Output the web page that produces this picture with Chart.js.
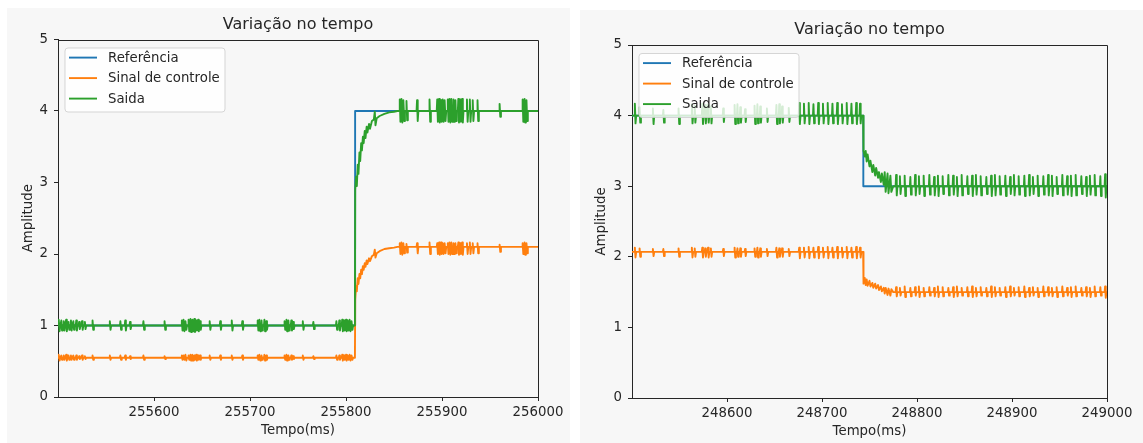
<!DOCTYPE html>
<html>
<head>
<meta charset="utf-8">
<script src="https://cdn.jsdelivr.net/npm/chart.js@4.4.1/dist/chart.umd.min.js"></script>
<style>
  html, body { margin: 0; padding: 0; background: #ffffff; width: 1143px; height: 443px; overflow: hidden; }
  .panel { position: absolute; background: #f7f7f7; }
  canvas { display: block; }
</style>
</head>
<body>
<div class="panel" style="left:7px; top:8px; width:563px; height:435px;"><canvas id="cL" width="563" height="435"></canvas></div>
<div class="panel" style="left:580px; top:10px; width:563px; height:433px;"><canvas id="cR" width="563" height="433"></canvas></div>
<script>
// ---------------- DATA ----------------
const titleText = 'Variação no tempo';
const xAxisTitle = 'Tempo(ms)';
const yAxisTitle = 'Amplitude';
const seriesNames = ['Referência', 'Sinal de controle', 'Saida'];
const yTicks = [0, 1, 2, 3, 4, 5];

// Left panel
const leftXRange = [255500, 256000];
const leftXTicks = [255600, 255700, 255800, 255900, 256000];
const leftStepT = 255809.5;
const leftRefT = [255500, 255809.5, 255809.5, 256000];
const leftRefV = [1, 1, 4, 4];
const leftCtrlLevels = [0.55, 2.10];
const leftOutLevels = [1.00, 4.00];
const leftRiseT = [255809.3, 255809.6, 255810.5, 255811.3, 255812.2, 255813, 255814, 255814.8, 255815.8, 255816.6, 255817.6, 255818.4, 255819.5, 255820.3, 255821.5, 255822.3, 255824, 255825, 255827, 255829, 255830, 255830.7, 255832, 255835, 255840, 255845, 255850, 255853.5];
const leftRiseCtrl = [0.55, 1.36, 1.55, 1.48, 1.66, 1.58, 1.72, 1.66, 1.78, 1.72, 1.83, 1.78, 1.87, 1.82, 1.91, 1.86, 1.94, 1.90, 1.97, 1.99, 2.06, 1.95, 2.01, 2.04, 2.07, 2.08, 2.09, 2.10];
const leftRiseOut = [1.00, 2.90, 3.08, 2.95, 3.25, 3.12, 3.42, 3.30, 3.55, 3.45, 3.64, 3.55, 3.72, 3.62, 3.78, 3.70, 3.82, 3.75, 3.86, 3.88, 3.99, 3.80, 3.90, 3.93, 3.96, 3.98, 3.99, 4.00];
const leftSpikeT = [
  255501, 255503.5, 255506, 255508.5, 255511, 255513.5, 255516, 255519, 255522, 255525, 255528,
  255536, 255554, 255565, 255570, 255575, 255589, 255611,
  255629, 255631, 255633, 255636, 255638, 255640, 255642, 255644, 255646, 255648,
  255658, 255669, 255681, 255692,
  255708, 255710, 255712, 255715, 255717,
  255736, 255738, 255740, 255743, 255745,
  255755, 255766,
  255790, 255793, 255796, 255798, 255800, 255802, 255804, 255806,
  255856, 255858, 255860, 255863,
  255874, 255887,
  255895, 255897, 255899, 255901, 255903,
  255906, 255908, 255910, 255912, 255914,
  255917, 255919, 255921,
  255926, 255929, 255932, 255937,
  255960,
  255984, 255986, 255988];
const leftOutHi = [
  1.08, 1.07, 1.06, 1.08, 1.05, 1.07, 1.06, 1.07, 1.05, 1.06, 1.05,
  1.07, 1.06, 1.06, 1.07, 1.05, 1.06, 1.06,
  1.07, 1.08, 1.06, 1.08, 1.09, 1.08, 1.09, 1.07, 1.08, 1.06,
  1.06, 1.06, 1.07, 1.06,
  1.07, 1.08, 1.07, 1.08, 1.06,
  1.06, 1.08, 1.07, 1.07, 1.05,
  1.06, 1.05,
  1.06, 1.07, 1.08, 1.07, 1.08, 1.07, 1.08, 1.06,
  4.16, 4.17, 4.15, 4.14,
  4.15, 4.16,
  4.16, 4.17, 4.15, 4.16, 4.15,
  4.16, 4.17, 4.17, 4.16, 4.15,
  4.17, 4.16, 4.17,
  4.16, 4.16, 4.15, 4.15,
  4.10,
  4.16, 4.17, 4.15];
const leftOutLo = [
  0.92, 0.93, 0.93, 0.92, 0.94, 0.93, 0.94, 0.93, 0.95, 0.94, 0.95,
  0.94, 0.94, 0.94, 0.93, 0.95, 0.94, 0.94,
  0.93, 0.92, 0.94, 0.92, 0.91, 0.92, 0.91, 0.93, 0.92, 0.94,
  0.94, 0.94, 0.93, 0.94,
  0.93, 0.92, 0.93, 0.92, 0.94,
  0.94, 0.92, 0.93, 0.93, 0.95,
  0.94, 0.95,
  0.94, 0.93, 0.92, 0.93, 0.92, 0.93, 0.92, 0.94,
  3.85, 3.84, 3.86, 3.87,
  3.86, 3.85,
  3.85, 3.84, 3.85, 3.85, 3.86,
  3.85, 3.84, 3.85, 3.85, 3.86,
  3.84, 3.85, 3.84,
  3.85, 3.85, 3.86, 3.86,
  3.92,
  3.85, 3.84, 3.86];
const leftCtrlHi = [
  0.59, 0.58, 0.58, 0.59, 0.58, 0.58, 0.58, 0.58, 0.57, 0.58, 0.57,
  0.58, 0.58, 0.58, 0.58, 0.57, 0.58, 0.57,
  0.58, 0.58, 0.59, 0.58, 0.59, 0.59, 0.58, 0.59, 0.58, 0.58,
  0.58, 0.58, 0.58, 0.58,
  0.58, 0.59, 0.58, 0.59, 0.58,
  0.58, 0.59, 0.58, 0.58, 0.57,
  0.58, 0.57,
  0.58, 0.58, 0.59, 0.58, 0.59, 0.58, 0.59, 0.58,
  2.15, 2.16, 2.15, 2.14,
  2.15, 2.16,
  2.15, 2.16, 2.16, 2.15, 2.15,
  2.15, 2.16, 2.16, 2.15, 2.15,
  2.16, 2.15, 2.16,
  2.15, 2.16, 2.15, 2.15,
  2.13,
  2.15, 2.16, 2.15];
const leftCtrlLo = [
  0.51, 0.52, 0.52, 0.51, 0.52, 0.52, 0.52, 0.52, 0.53, 0.52, 0.53,
  0.52, 0.52, 0.52, 0.52, 0.53, 0.52, 0.53,
  0.52, 0.52, 0.51, 0.52, 0.51, 0.51, 0.52, 0.51, 0.52, 0.52,
  0.52, 0.52, 0.52, 0.52,
  0.52, 0.51, 0.52, 0.51, 0.52,
  0.52, 0.51, 0.52, 0.52, 0.53,
  0.52, 0.53,
  0.52, 0.52, 0.51, 0.52, 0.51, 0.52, 0.51, 0.52,
  2.00, 1.99, 2.01, 2.02,
  2.01, 2.00,
  2.00, 1.99, 2.00, 2.00, 2.01,
  2.00, 1.99, 2.00, 2.00, 2.01,
  1.99, 2.00, 1.99,
  2.00, 2.00, 2.01, 2.01,
  2.03,
  2.00, 1.99, 2.01];

// Right panel
const rightXRange = [248500, 249000];
const rightXTicks = [248600, 248700, 248800, 248900, 249000];
const rightStepT = 248743.5;
const rightRefT = [248500, 248743.5, 248743.5, 249000];
const rightRefV = [4, 4, 3, 3];
const rightCtrlLevels = [2.07, 1.50];
const rightOutLevels = [4.00, 3.00];
const rightFallT = [248743.3, 248743.7, 248745, 248746, 248747, 248748, 248750, 248751, 248753, 248754, 248756, 248757, 248759, 248760, 248762, 248763, 248765, 248766, 248767, 248769, 248770, 248772, 248773, 248775];
const rightFallOut = [4.00, 3.50, 3.42, 3.50, 3.35, 3.45, 3.28, 3.36, 3.20, 3.30, 3.15, 3.26, 3.12, 3.20, 3.06, 3.18, 3.02, 3.20, 2.92, 3.18, 2.90, 3.15, 2.92, 3.00];
const rightFallCtrl = [2.07, 1.62, 1.70, 1.60, 1.68, 1.59, 1.66, 1.58, 1.63, 1.56, 1.62, 1.55, 1.60, 1.53, 1.58, 1.51, 1.56, 1.48, 1.56, 1.46, 1.55, 1.45, 1.54, 1.50];
const rightSpikeT = [
  248503, 248508, 248522, 248533, 248549, 248563, 248566, 248574, 248577, 248580,
  248583, 248596, 248608, 248611, 248614, 248619, 248629, 248632, 248635, 248642,
  248652, 248655, 248658, 248665, 248676, 248681, 248686, 248691, 248696, 248701,
  248706, 248711, 248716, 248721, 248726, 248731, 248736, 248740,
  248778, 248782, 248787, 248793, 248798, 248802, 248807, 248813, 248818, 248822,
  248827, 248833, 248838, 248842, 248847, 248853, 248858, 248862, 248867, 248873,
  248878, 248882, 248887, 248893, 248898, 248902, 248907, 248913, 248918, 248922,
  248927, 248933, 248938, 248942, 248947, 248953, 248958, 248962, 248967, 248973,
  248978, 248982, 248987, 248993, 248998];
const rightOutHi = [
  4.17, 4.12, 4.10, 4.08, 4.10, 4.16, 4.14, 4.17, 4.15, 4.16,
  4.13, 4.10, 4.15, 4.16, 4.12, 4.09, 4.14, 4.16, 4.13, 4.10,
  4.15, 4.16, 4.13, 4.11, 4.18, 4.17, 4.18, 4.16, 4.18, 4.17,
  4.18, 4.17, 4.18, 4.16, 4.18, 4.17, 4.18, 4.17,
  3.16, 3.14, 3.15, 3.13, 3.16, 3.14, 3.15, 3.16, 3.13, 3.15,
  3.14, 3.16, 3.15, 3.13, 3.16, 3.14, 3.15, 3.16, 3.14, 3.13,
  3.15, 3.16, 3.14, 3.15, 3.13, 3.16, 3.14, 3.15, 3.16, 3.13,
  3.15, 3.14, 3.16, 3.15, 3.13, 3.16, 3.14, 3.15, 3.16, 3.14,
  3.13, 3.15, 3.16, 3.14, 3.17];
const rightOutLo = [
  3.89, 3.90, 3.88, 3.90, 3.88, 3.89, 3.90, 3.88, 3.89, 3.90,
  3.89, 3.91, 3.88, 3.89, 3.90, 3.91, 3.88, 3.89, 3.90, 3.91,
  3.88, 3.89, 3.90, 3.91, 3.88, 3.89, 3.88, 3.89, 3.88, 3.89,
  3.88, 3.89, 3.88, 3.89, 3.88, 3.89, 3.88, 3.89,
  2.87, 2.89, 2.86, 2.88, 2.87, 2.89, 2.86, 2.88, 2.87, 2.86,
  2.89, 2.87, 2.88, 2.86, 2.87, 2.89, 2.86, 2.88, 2.87, 2.89,
  2.86, 2.87, 2.88, 2.86, 2.89, 2.87, 2.88, 2.86, 2.87, 2.89,
  2.86, 2.88, 2.87, 2.86, 2.89, 2.87, 2.88, 2.86, 2.87, 2.89,
  2.86, 2.88, 2.87, 2.86, 2.84];
const rightCtrlHi = [
  2.13, 2.12, 2.11, 2.11, 2.12, 2.13, 2.12, 2.13, 2.12, 2.13,
  2.12, 2.11, 2.13, 2.12, 2.12, 2.11, 2.12, 2.13, 2.12, 2.11,
  2.13, 2.12, 2.12, 2.11, 2.13, 2.13, 2.14, 2.13, 2.14, 2.13,
  2.14, 2.13, 2.14, 2.13, 2.14, 2.13, 2.14, 2.13,
  1.57, 1.56, 1.58, 1.56, 1.57, 1.58, 1.56, 1.57, 1.56, 1.58,
  1.57, 1.56, 1.57, 1.58, 1.56, 1.57, 1.58, 1.56, 1.57, 1.56,
  1.58, 1.57, 1.56, 1.57, 1.58, 1.56, 1.57, 1.58, 1.56, 1.57,
  1.56, 1.58, 1.57, 1.56, 1.57, 1.58, 1.56, 1.57, 1.58, 1.56,
  1.57, 1.56, 1.58, 1.57, 1.58];
const rightCtrlLo = [
  1.99, 2.00, 2.01, 2.01, 2.00, 1.99, 2.00, 1.99, 2.00, 1.99,
  2.00, 2.01, 1.99, 2.00, 2.00, 2.01, 2.00, 1.99, 2.00, 2.01,
  1.99, 2.00, 2.00, 2.01, 1.98, 1.99, 1.98, 1.99, 1.98, 1.99,
  1.98, 1.99, 1.98, 1.99, 1.98, 1.99, 1.98, 1.99,
  1.44, 1.45, 1.43, 1.44, 1.45, 1.43, 1.44, 1.45, 1.44, 1.43,
  1.44, 1.45, 1.43, 1.44, 1.45, 1.44, 1.43, 1.44, 1.45, 1.44,
  1.43, 1.44, 1.45, 1.43, 1.44, 1.45, 1.44, 1.43, 1.44, 1.45,
  1.43, 1.44, 1.45, 1.44, 1.43, 1.44, 1.45, 1.43, 1.44, 1.45,
  1.44, 1.43, 1.44, 1.45, 1.42];

// ---------------- BUILD ----------------
const COLORS = ['#1f77b4', '#ff7f0e', '#2ca02c'];
const FONT = '"DejaVu Sans", "Liberation Sans", sans-serif';
const TEXT = '#262626';
const LW = 1.9;

function pairs(ts, vs) { return ts.map((t, i) => ({ x: t, y: vs[i] })); }

// polyline: flat levels before/after the step, typed transition points, and spikes (hi/lo excursions)
function buildSeries(range, stepT, levels, transT, transV, spikeT, hi, lo) {
  const pts = [{ x: range[0], y: levels[0] }];
  spikeT.forEach((t, i) => {
    const base = t < stepT ? levels[0] : levels[1];
    pts.push({ x: t - 0.5, y: base }, { x: t, y: hi[i] }, { x: t + 0.7, y: lo[i] }, { x: t + 1.4, y: base });
  });
  transT.forEach((t, i) => pts.push({ x: t, y: transV[i] }));
  pts.push({ x: range[1], y: levels[1] });
  pts.sort((a, b) => a.x - b.x);
  return pts;
}

const chromePlugin = {
  id: 'chrome',
  afterDatasetsDraw(chart) {
    const ctx = chart.ctx, ca = chart.chartArea;
    ctx.save();
    // top/right spines
    ctx.strokeStyle = TEXT; ctx.lineWidth = 1;
    ctx.beginPath();
    ctx.moveTo(Math.round(ca.left) + 0.5, Math.round(ca.top) + 0.5);
    ctx.lineTo(Math.round(ca.right) + 0.5, Math.round(ca.top) + 0.5);
    ctx.lineTo(Math.round(ca.right) + 0.5, Math.round(ca.bottom) + 0.5);
    ctx.stroke();
    // legend (upper left, inside axes)
    const x0 = ca.left + 7, y0 = ca.top + 8.5, w = 160, h = 64, r = 3;
    ctx.beginPath();
    ctx.moveTo(x0 + r, y0);
    ctx.lineTo(x0 + w - r, y0); ctx.quadraticCurveTo(x0 + w, y0, x0 + w, y0 + r);
    ctx.lineTo(x0 + w, y0 + h - r); ctx.quadraticCurveTo(x0 + w, y0 + h, x0 + w - r, y0 + h);
    ctx.lineTo(x0 + r, y0 + h); ctx.quadraticCurveTo(x0, y0 + h, x0, y0 + h - r);
    ctx.lineTo(x0, y0 + r); ctx.quadraticCurveTo(x0, y0, x0 + r, y0);
    ctx.closePath();
    ctx.fillStyle = 'rgba(255,255,255,0.8)';
    ctx.fill();
    ctx.strokeStyle = 'rgba(204,204,204,0.8)';
    ctx.lineWidth = 1;
    ctx.stroke();
    ctx.font = '13.3px ' + FONT;
    ctx.textBaseline = 'middle';
    ctx.textAlign = 'left';
    chart.data.datasets.forEach((ds, i) => {
      const yy = y0 + 9.6 + i * 20.5;
      ctx.strokeStyle = ds.borderColor; ctx.lineWidth = LW;
      ctx.beginPath(); ctx.moveTo(x0 + 4, yy); ctx.lineTo(x0 + 32, yy); ctx.stroke();
      ctx.fillStyle = TEXT;
      ctx.fillText(ds.label, x0 + 43, yy + 0.5);
    });
    // title
    ctx.font = '16px ' + FONT;
    ctx.textAlign = 'center';
    ctx.fillStyle = TEXT;
    ctx.fillText(titleText, (ca.left + ca.right) / 2, ca.top - 15);
    ctx.restore();
  }
};

function makeChart(id, o) {
  const ds = [
    { label: seriesNames[0], data: pairs(o.refT, o.refV), borderColor: COLORS[0], order: 3 },
    { label: seriesNames[1], data: buildSeries(o.range, o.stepT, o.ctrlLevels, o.transT, o.transCtrl, o.spikeT, o.ctrlHi, o.ctrlLo), borderColor: COLORS[1], order: 2 },
    { label: seriesNames[2], data: buildSeries(o.range, o.stepT, o.outLevels, o.transT, o.transOut, o.spikeT, o.outHi, o.outLo), borderColor: COLORS[2], order: 1 }
  ];
  ds.forEach(d => Object.assign(d, { borderWidth: LW, pointRadius: 0, tension: 0, fill: false, borderJoinStyle: 'round', spanGaps: true }));
  return new Chart(document.getElementById(id), {
    type: 'line',
    data: { datasets: ds },
    plugins: [chromePlugin],
    options: {
      responsive: false, animation: false, devicePixelRatio: 1,
      parsing: false, normalized: true,
      layout: { padding: o.pad },
      plugins: { legend: { display: false }, title: { display: false }, tooltip: { enabled: false } },
      scales: {
        x: {
          type: 'linear', min: o.range[0], max: o.range[1],
          afterBuildTicks: s => { s.ticks = o.xTicks.map(v => ({ value: v })); },
          afterFit: s => { s.height = o.xH; },
          ticks: { autoSkip: false, maxRotation: 0, padding: 4, color: TEXT, font: { family: FONT, size: 13.3 }, callback: v => String(v) },
          grid: { display: true, drawOnChartArea: false, drawTicks: true, tickLength: 4, color: TEXT, lineWidth: 1 },
          border: { display: true, color: TEXT, width: 1 },
          title: { display: true, text: xAxisTitle, color: TEXT, font: { family: FONT, size: 13.3 }, padding: { top: 0, bottom: o.xTitlePad } }
        },
        y: {
          type: 'linear', min: 0, max: 5,
          afterBuildTicks: s => { s.ticks = yTicks.map(v => ({ value: v })); },
          afterFit: s => { s.width = o.yW; },
          ticks: { padding: 6, color: TEXT, font: { family: FONT, size: 13.3 } },
          grid: { display: true, drawOnChartArea: false, drawTicks: true, tickLength: 4, color: TEXT, lineWidth: 1 },
          border: { display: true, color: TEXT, width: 1 },
          title: { display: true, text: yAxisTitle, color: TEXT, font: { family: FONT, size: 13.3 }, padding: { top: 14, bottom: 0 } }
        }
      }
    }
  });
}

makeChart('cL', {
  range: leftXRange, xTicks: leftXTicks, stepT: leftStepT,
  refT: leftRefT, refV: leftRefV,
  ctrlLevels: leftCtrlLevels, outLevels: leftOutLevels,
  transT: leftRiseT, transCtrl: leftRiseCtrl, transOut: leftRiseOut,
  spikeT: leftSpikeT, outHi: leftOutHi, outLo: leftOutLo, ctrlHi: leftCtrlHi, ctrlLo: leftCtrlLo,
  pad: { top: 31.5, right: 32, left: 0, bottom: 0 }, yW: 51, xH: 46, xTitlePad: 4
});
makeChart('cR', {
  range: rightXRange, xTicks: rightXTicks, stepT: rightStepT,
  refT: rightRefT, refV: rightRefV,
  ctrlLevels: rightCtrlLevels, outLevels: rightOutLevels,
  transT: rightFallT, transCtrl: rightFallCtrl, transOut: rightFallOut,
  spikeT: rightSpikeT, outHi: rightOutHi, outLo: rightOutLo, ctrlHi: rightCtrlHi, ctrlLo: rightCtrlLo,
  pad: { top: 35, right: 36, left: 0, bottom: 0 }, yW: 52, xH: 45, xTitlePad: 3
});
</script>
</body>
</html>
